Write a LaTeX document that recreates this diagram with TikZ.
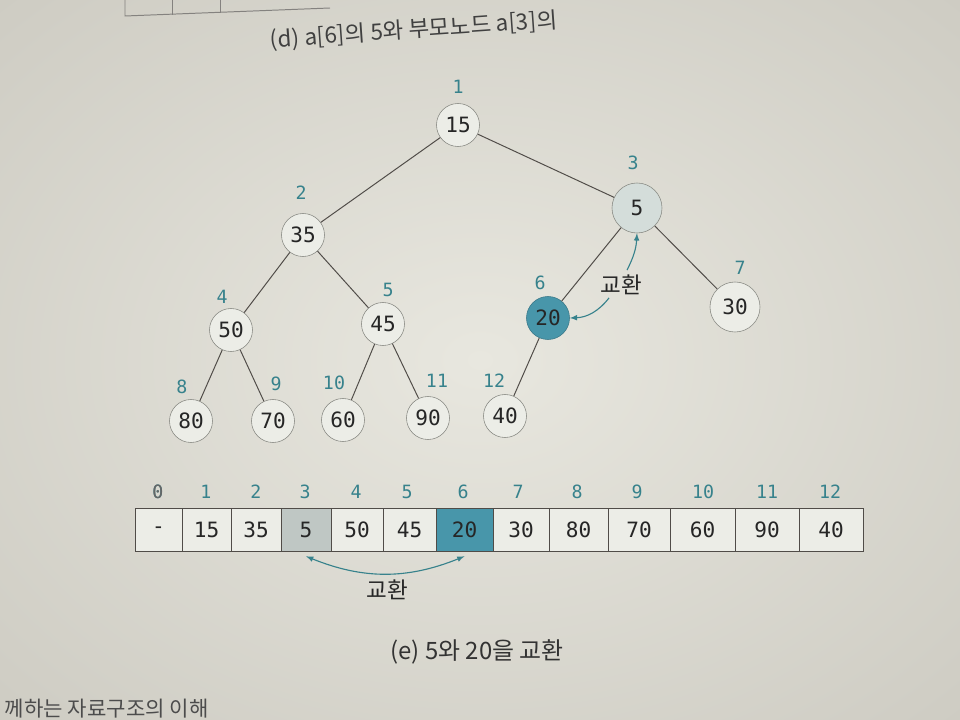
\documentclass[tikz,border=0pt]{standalone}
\usepackage{fontspec}
\setmainfont{Noto Sans CJK KR}
\newfontfamily\numfont{DejaVu Sans Mono}
\usetikzlibrary{arrows.meta}
\definecolor{paper}{RGB}{232,231,223}
\definecolor{paperedge}{RGB}{206,204,195}
\definecolor{ringgray}{RGB}{135,136,130}
\definecolor{nodefill}{RGB}{236,237,231}
\definecolor{swapfill}{RGB}{212,221,218}
\definecolor{hitteal}{RGB}{72,150,170}
\definecolor{idxteal}{RGB}{55,130,140}
\definecolor{inkgray}{RGB}{80,76,72}

\begin{document}
\begin{tikzpicture}[x=0.025cm, y=-0.025cm, >=latex,
    heap/.style={circle, draw=ringgray, fill=nodefill, minimum size=1.075cm, inner sep=0pt,
                 font=\numfont\fontsize{15}{15}\selectfont, text=black!85},
    big/.style={minimum size=1.25cm},
    idx/.style={font=\numfont\fontsize{13}{13}\selectfont, text=idxteal},
    edge/.style={draw=inkgray, line width=0.7pt},
    cell/.style={draw=inkgray, fill=nodefill, line width=0.6pt, inner sep=0pt, outer sep=0pt,
                 minimum height=1.075cm, font=\numfont\fontsize{15}{15}\selectfont, text=black!85},
    swap/.style={draw=idxteal, line width=0.8pt}]

    % Pagina (foto)
    \useasboundingbox (0,0) rectangle (960,720);
    \clip (0,0) rectangle (960,720);
    \shade[inner color=paper, outer color=paperedge] (-200,-150) rectangle (1160,870);

    % Resto della figura precedente
    \draw[edge, draw=inkgray!70] (125,-5) -- (125,16) -- (330,8);
    \draw[edge, draw=inkgray!70] (172,-5) -- (172,15);
    \draw[edge, draw=inkgray!70] (220,-5) -- (220,13);
    \node[anchor=base west, rotate=4, font=\fontsize{16}{16}\selectfont, text=black!75]
        (capd) at (266,48) {(d) a[6]의 5와 부모노드 a[3]의};

    % Albero (heap)
    \node[heap] (n1) at (458,125) {15};
    \node[heap] (n2) at (303,235) {35};
    \node[heap, big, fill=swapfill] (n3) at (637,208) {5};
    \node[heap] (n4) at (231,330) {50};
    \node[heap] (n5) at (383,324) {45};
    \node[heap, fill=hitteal, draw=hitteal!80!black] (n6) at (548,318) {20};
    \node[heap, big] (n7) at (735,307) {30};
    \node[heap] (n8) at (191,421) {80};
    \node[heap] (n9) at (273,421) {70};
    \node[heap] (n10) at (343,420) {60};
    \node[heap] (n11) at (428,418) {90};
    \node[heap] (n12) at (505,416) {40};

    % Archi
    \draw[edge] (n1) -- (n2);
    \draw[edge] (n1) -- (n3);
    \draw[edge] (n2) -- (n4);
    \draw[edge] (n2) -- (n5);
    \draw[edge] (n3) -- (n6);
    \draw[edge] (n3) -- (n7);
    \draw[edge] (n4) -- (n8);
    \draw[edge] (n4) -- (n9);
    \draw[edge] (n5) -- (n10);
    \draw[edge] (n5) -- (n11);
    \draw[edge] (n6) -- (n12);

    % Indici dei nodi
    \node[idx] (i1) at (458,87) {1};
    \node[idx] (i2) at (301,193) {2};
    \node[idx] (i3) at (633,163) {3};
    \node[idx] (i4) at (222,297) {4};
    \node[idx] (i5) at (388,290) {5};
    \node[idx] (i6) at (540,283) {6};
    \node[idx] (i7) at (740,268) {7};
    \node[idx] (i8) at (182,387) {8};
    \node[idx] (i9) at (276,384) {9};
    \node[idx] (i10) at (334,383) {10};
    \node[idx] (i11) at (437,381) {11};
    \node[idx] (i12) at (494,381) {12};

    % Scambio nell'albero
    \node[font=\fontsize{16}{16}\selectfont, text=black!85] (sw) at (621,285) {교환};
    \draw[swap, ->] ([xshift=0.15cm]sw.north) to[bend right=12] (n3.south);
    \draw[swap, ->] ([xshift=-0.3cm, yshift=0.05cm]sw.south) to[bend left=25] (n6.east);

    % Array
    \foreach \i/\l/\r/\v/\x in {0/135/182/-/158, 1/182/231/15/206, 2/231/281/35/256,
            3/281/331/5/305, 4/331/383/50/356, 5/383/436/45/407, 6/436/493/20/463,
            7/493/549/30/518, 8/549/608/80/577, 9/608/670/70/637, 10/670/735/60/703,
            11/735/799/90/767, 12/799/863/40/830} {
        \node[cell, minimum width={(\r-\l)*0.025cm}] (c\i) at ({(\l+\r)/2},530) {\v};
        \node[idx] (a\i) at (\x,492) {\i};
    }
    \node[cell, minimum width=1.25cm, fill=swapfill!90!black] at (c3) {5};
    \node[cell, minimum width=1.425cm, fill=hitteal] at (c6) {20};
    \node[idx, text=black!60] at (a0) {0};

    % Scambio nell'array
    \coordinate (s3) at ([yshift=-0.12cm]c3.south);
    \coordinate (s6) at ([yshift=-0.12cm]c6.south);
    \draw[swap, <->] (s3) to[bend right=22] (s6);
    \node[font=\fontsize{16}{16}\selectfont, text=black!85] (sw2) at (387,590) {교환};

    % Didascalia
    \node[font=\fontsize{17}{17}\selectfont, text=black!80] (cape) at (477,652) {(e) 5와 20을 교환};
    \node[anchor=base west, font=\fontsize{15}{15}\selectfont, text=black!70]
        (foot) at (0,716) {께하는 자료구조의 이해};
\end{tikzpicture}
\end{document}
